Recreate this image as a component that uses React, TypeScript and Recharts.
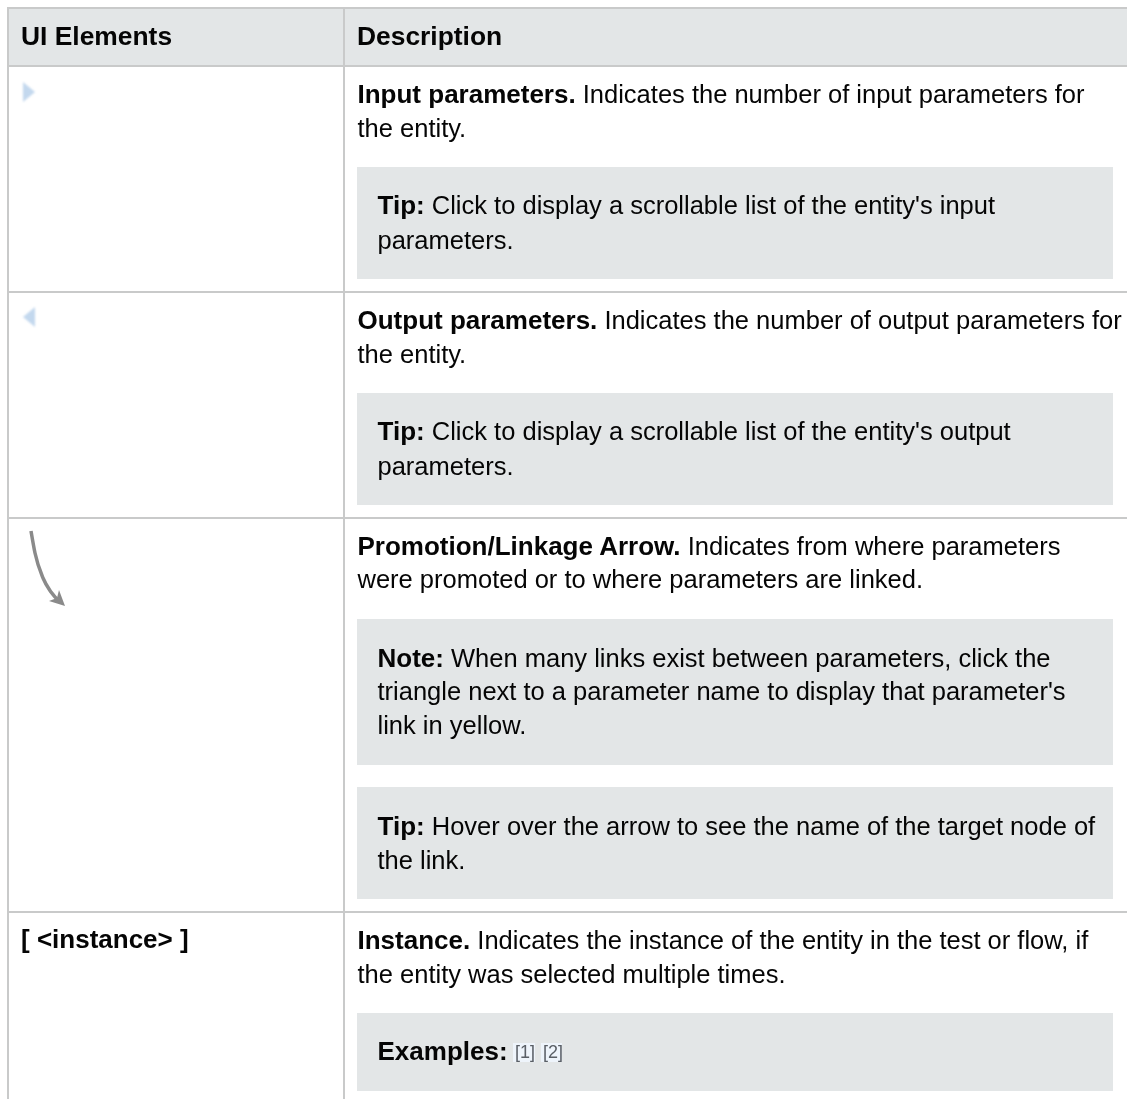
import React from "react"
import { ComposedChart, XAxis, YAxis, Scatter, Line, ReferenceArea } from "recharts"

const WIDTH = 1127
const HEIGHT = 1099
const FONT = "'Liberation Sans', Arial, sans-serif"
const RULE = "#c9caca"
const PANEL = "#e3e6e7"

// table structure
const tableLeft = 7
const tableTop = 7
const columnEdge = 343
const headerBottom = 65
const rowEdges = [291, 517, 911]

// shaded note boxes: [top, bottom]
const panels = [
  [167, 279],
  [393, 505],
  [619, 765],
  [787, 899],
  [1013, 1091],
]
const panelLeft = 357
const panelRight = 1113

type TextLine = { x: number; y: number; bold?: string; text?: string }

const headerLines: TextLine[] = [
  { x: 21, y: 45, bold: "UI Elements" },
  { x: 357, y: 45, bold: "Description" },
]

const bodyLines: TextLine[] = [
  { x: 357.5, y: 103, bold: "Input parameters.", text: " Indicates the number of input parameters for" },
  { x: 357.5, y: 137, text: "the entity." },
  { x: 377.5, y: 214, bold: "Tip:", text: " Click to display a scrollable list of the entity's input" },
  { x: 377.5, y: 249, text: "parameters." },
  { x: 357.5, y: 329, bold: "Output parameters.", text: " Indicates the number of output parameters for" },
  { x: 357.5, y: 363, text: "the entity." },
  { x: 377.5, y: 440, bold: "Tip:", text: " Click to display a scrollable list of the entity's output" },
  { x: 377.5, y: 475, text: "parameters." },
  { x: 357.5, y: 555, bold: "Promotion/Linkage Arrow.", text: " Indicates from where parameters" },
  { x: 357.5, y: 588, text: "were promoted or to where parameters are linked." },
  { x: 377.5, y: 667, bold: "Note:", text: " When many links exist between parameters, click the" },
  { x: 377.5, y: 700, text: "triangle next to a parameter name to display that parameter's" },
  { x: 377.5, y: 734, text: "link in yellow." },
  { x: 377.5, y: 835, bold: "Tip:", text: " Hover over the arrow to see the name of the target node of" },
  { x: 377.5, y: 869, text: "the link." },
  { x: 21, y: 948, bold: "[ <instance> ]" },
  { x: 357.5, y: 949, bold: "Instance.", text: " Indicates the instance of the entity in the test or flow, if" },
  { x: 357.5, y: 983, text: "the entity was selected multiple times." },
  { x: 377.5, y: 1060, bold: "Examples:" },
]

const exampleTags = [
  { x: 515, y: 1058, label: "[1]", from: 513, to: 535 },
  { x: 543, y: 1058, label: "[2]", from: 541, to: 562 },
]

const inputIcon = [{ x: 23, y: 92 }]
const outputIcon = [{ x: 23, y: 317 }]
const arrowPath = [
  { x: 31, y: 531 },
  { x: 35, y: 553 },
  { x: 43, y: 578 },
  { x: 51, y: 592 },
  { x: 60, y: 602 },
]
const arrowTip = [{ x: 65, y: 606 }]

const TextRow = ({ cx, cy, payload, boldSize }: any) => (
  <text x={cx} y={cy} fontFamily={FONT} fontSize={25.5} fill="#050505" style={{ filter: "blur(0.3px)" }}>
    {payload.bold && (
      <tspan fontWeight="bold" fontSize={boldSize}>
        {payload.bold}
      </tspan>
    )}
    {payload.text && <tspan>{payload.text}</tspan>}
  </text>
)

const TagText = ({ cx, cy, payload }: any) => (
  <text x={cx} y={cy} fontFamily={FONT} fontSize={18} fill="#5a5f66" style={{ filter: "blur(0.3px)" }}>
    {payload.label}
  </text>
)

const RightTriangle = ({ cx, cy }: any) => (
  <polygon
    points={`${cx},${cy - 10} ${cx + 12},${cy} ${cx},${cy + 10}`}
    fill="#c3d8ee"
    style={{ filter: "blur(0.8px)" }}
  />
)

const LeftTriangle = ({ cx, cy }: any) => (
  <polygon
    points={`${cx + 12},${cy - 10} ${cx},${cy} ${cx + 12},${cy + 10}`}
    fill="#c3d8ee"
    style={{ filter: "blur(0.8px)" }}
  />
)

const ArrowHead = ({ cx, cy }: any) => (
  <polygon
    points={`${cx},${cy} ${cx - 16},${cy - 5} ${cx - 8},${cy - 8} ${cx - 6},${cy - 16}`}
    fill="#8a8a8a"
    style={{ filter: "blur(0.6px)" }}
  />
)

export default function App() {
  return (
    <div style={{ position: "absolute", left: 0, top: 0, width: WIDTH, height: HEIGHT, background: "#fff" }}>
      <ComposedChart width={WIDTH} height={HEIGHT} margin={{ top: 0, right: 0, bottom: 0, left: 0 }}>
        <XAxis type="number" dataKey="x" domain={[0, WIDTH]} hide allowDataOverflow />
        <YAxis type="number" dataKey="y" domain={[0, HEIGHT]} reversed hide allowDataOverflow />

        <ReferenceArea x1={tableLeft} x2={WIDTH} y1={tableTop} y2={headerBottom} fill={PANEL} fillOpacity={1} />
        {panels.map(([top, bottom], i) => (
          <ReferenceArea key={i} x1={panelLeft} x2={panelRight} y1={top} y2={bottom} fill={PANEL} fillOpacity={1} />
        ))}

        {/* table rules */}
        <ReferenceArea x1={tableLeft} x2={WIDTH} y1={tableTop} y2={tableTop + 2} fill={RULE} fillOpacity={1} />
        <ReferenceArea x1={tableLeft} x2={WIDTH} y1={headerBottom} y2={headerBottom + 2} fill={RULE} fillOpacity={1} />
        {rowEdges.map((y) => (
          <ReferenceArea key={y} x1={tableLeft} x2={WIDTH} y1={y} y2={y + 2} fill={RULE} fillOpacity={1} />
        ))}
        <ReferenceArea x1={tableLeft} x2={tableLeft + 2} y1={tableTop} y2={HEIGHT} fill={RULE} fillOpacity={1} />
        <ReferenceArea x1={columnEdge} x2={columnEdge + 2} y1={tableTop} y2={HEIGHT} fill={RULE} fillOpacity={1} />

        {exampleTags.map((t) => (
          <ReferenceArea key={t.label} x1={t.from} x2={t.to} y1={1043} y2={1062} fill="#eef4fb" fillOpacity={1} />
        ))}

        <Scatter data={inputIcon} shape={RightTriangle} isAnimationActive={false} />
        <Scatter data={outputIcon} shape={LeftTriangle} isAnimationActive={false} />
        <Line
          data={arrowPath}
          dataKey="y"
          type="monotone"
          stroke="#8a8a8a"
          strokeWidth={3.5}
          dot={false}
          isAnimationActive={false}
          style={{ filter: "blur(0.6px)" }}
        />
        <Scatter data={arrowTip} shape={ArrowHead} isAnimationActive={false} />

        <Scatter data={headerLines} shape={(p: any) => <TextRow {...p} boldSize={26.4} />} isAnimationActive={false} />
        <Scatter data={bodyLines} shape={(p: any) => <TextRow {...p} boldSize={26} />} isAnimationActive={false} />
        <Scatter data={exampleTags} shape={TagText} isAnimationActive={false} />
      </ComposedChart>
    </div>
  )
}
